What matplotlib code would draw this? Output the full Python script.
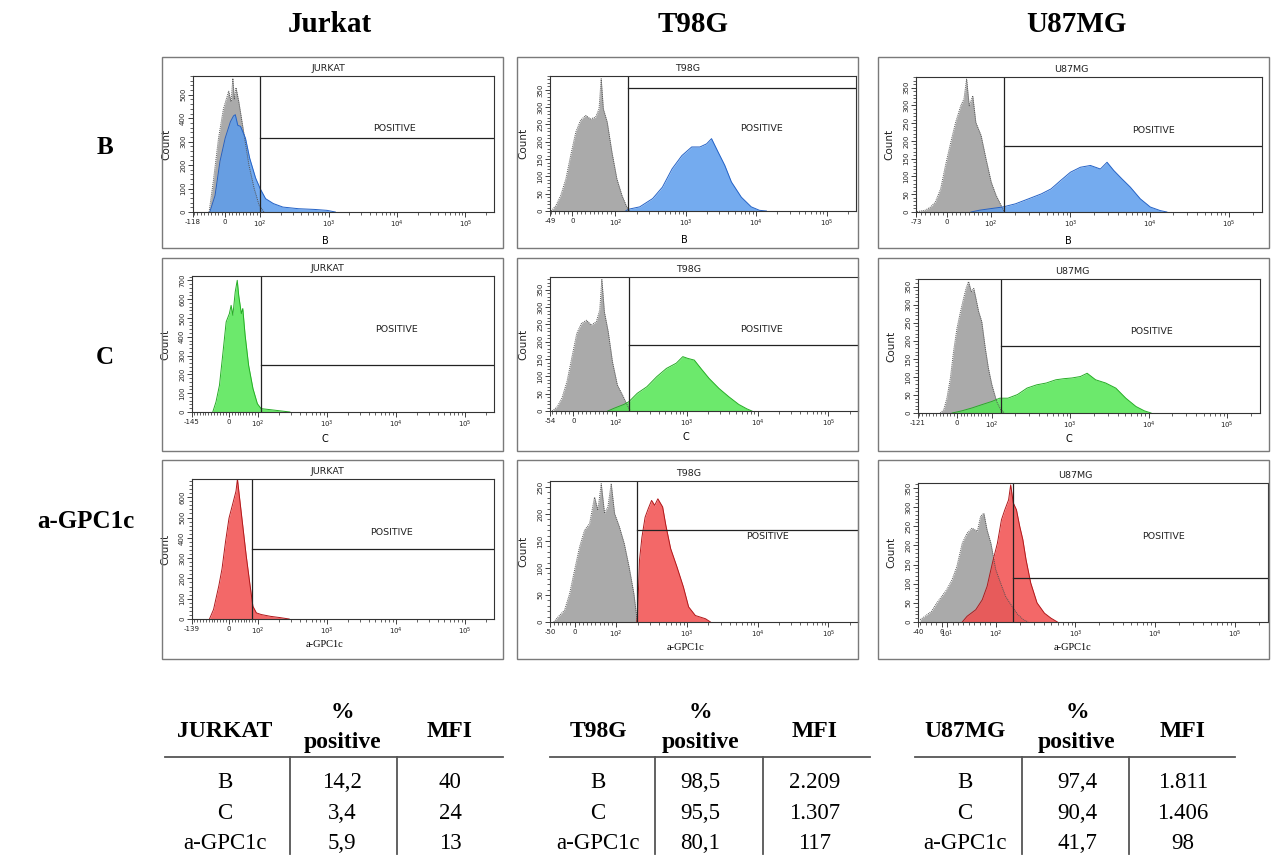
import matplotlib.pyplot as plt
from matplotlib.patches import Rectangle
from matplotlib.lines import Line2D
from matplotlib.ticker import FixedLocator, MultipleLocator

W, H = 1274, 856

col_heads = ["Jurkat", "T98G", "U87MG"]
row_heads = ["B", "C", "a-GPC1c"]
panel_names = ["JURKAT", "T98G", "U87MG"]

# histograms: x = fluorescence, n = count
# grey = control, coloured = stained
jb_ctrl_x = [-46, -34, -19, -5, 10, 17, 22, 26, 31, 39, 53, 68, 83, 97, 114]
jb_ctrl_n = [0, 130, 315, 440, 515, 470, 570, 480, 530, 470, 340, 200, 100, 30, 0]
jb_x = [-44, -29, -15, 0, 15, 24, 29, 36, 44, 58, 70, 87, 100, 120, 156, 215, 365, 620, 950, 1256]
jb_n = [0, 70, 215, 315, 385, 410, 415, 370, 365, 315, 230, 145, 100, 57, 36, 21, 14, 11, 7, 0]

tb_ctrl_x = [-49, -38, -27, -15, -4, 8, 19, 31, 42, 54, 62, 67, 72, 81, 92, 105, 124, 145, 160]
tb_ctrl_n = [0, 16, 45, 93, 160, 228, 262, 276, 266, 271, 295, 382, 295, 257, 170, 93, 45, 12, 0]
tb_x = [140, 153, 222, 339, 466, 640, 880, 1215, 1590, 1977, 2323, 2884, 3580, 4446, 6150, 8510, 11140, 14000]
tb_n = [0, 5, 12, 36, 69, 122, 160, 185, 185, 194, 209, 170, 132, 84, 40, 12, 2, 0]

ub_ctrl_x = [-73, -50, -38, -27, -15, -4, 8, 19, 31, 38, 44, 50, 58, 65, 77, 88, 100, 115, 133, 146]
ub_ctrl_n = [0, 5, 14, 28, 65, 131, 196, 252, 300, 318, 374, 299, 327, 252, 215, 150, 84, 47, 19, 0]
ub_x = [54, 73, 96, 139, 202, 295, 429, 569, 755, 1000, 1337, 1787, 2388, 2898, 3517, 4478, 5700, 7620, 10190, 13600, 16500]
ub_n = [0, 5, 9, 14, 23, 37, 51, 65, 89, 112, 126, 131, 121, 140, 117, 93, 70, 37, 14, 4, 0]

jc_x = [-55, -44, -32, -21, -9, 2, 8, 14, 22, 29, 34, 43, 48, 56, 68, 83, 98, 111, 154, 235, 290]
jc_n = [0, 53, 142, 301, 479, 523, 567, 514, 638, 700, 620, 523, 550, 408, 248, 124, 44, 18, 12, 4, 0]

tc_ctrl_x = [-50, -38, -27, -15, -4, 8, 19, 31, 42, 54, 62, 67, 73, 82, 92, 105, 124, 145, 160]
tc_ctrl_n = [0, 12, 37, 85, 152, 224, 253, 262, 248, 258, 291, 380, 286, 229, 142, 75, 46, 17, 0]
tc_x = [81, 96, 130, 153, 200, 274, 377, 518, 712, 881, 1033, 1280, 1585, 2072, 2860, 3940, 5430, 7100, 8330]
tc_n = [0, 8, 19, 27, 51, 70, 99, 123, 138, 157, 152, 147, 123, 94, 65, 41, 19, 6, 0]

uc_ctrl_x = [-48, -38, -29, -19, -10, 0, 10, 19, 26, 33, 41, 48, 54, 62, 71, 81, 90, 100, 115, 130, 145]
uc_ctrl_n = [0, 9, 41, 97, 170, 235, 281, 318, 345, 364, 336, 345, 318, 281, 253, 180, 124, 78, 32, 9, 0]
uc_x = [-14, 14, 43, 71, 100, 126, 160, 212, 281, 373, 494, 655, 828, 1050, 1345, 1640, 2100, 2825, 3800, 5100, 6870, 8790, 10700]
uc_n = [0, 6, 14, 23, 32, 41, 41, 51, 69, 78, 83, 92, 95, 97, 101, 110, 92, 83, 69, 41, 18, 6, 0]

ja_x = [-67, -53, -35, -24, -12, 0, 12, 24, 29, 35, 47, 59, 71, 82, 94, 111, 152, 207, 282]
ja_n = [0, 47, 163, 247, 380, 497, 563, 630, 690, 613, 463, 313, 180, 63, 30, 22, 13, 7, 0]

ta_ctrl_x = [-50, -40, -24, -12, 0, 12, 24, 36, 48, 56, 64, 72, 80, 88, 96, 111, 130, 152, 178, 195, 200]
ta_ctrl_n = [0, 9, 22, 52, 96, 139, 170, 182, 231, 207, 256, 201, 213, 256, 201, 176, 145, 102, 52, 9, 0]
ta_x = [195, 201, 213, 231, 256, 284, 316, 350, 388, 453, 503, 588, 722, 890, 1056, 1315, 1830, 2150]
ta_n = [0, 15, 114, 157, 194, 210, 225, 216, 228, 213, 179, 136, 102, 65, 28, 12, 6, 0]

ua_ctrl_x = [-40, -31, -19, -9, 0, 9, 19, 28, 38, 47, 56, 66, 72, 78, 84, 91, 100, 115, 133, 160, 190, 223, 256]
ua_ctrl_n = [6, 15, 28, 50, 67, 84, 110, 145, 206, 232, 245, 237, 276, 284, 240, 206, 137, 102, 67, 41, 19, 6, 0]
ua_x = [38, 47, 63, 75, 84, 94, 105, 118, 130, 145, 154, 166, 182, 200, 219, 240, 275, 330, 409, 494, 595]
ua_n = [0, 15, 32, 58, 93, 155, 206, 267, 293, 319, 358, 311, 293, 250, 215, 163, 102, 50, 23, 10, 0]

hists = [[(jb_ctrl_x, jb_ctrl_n, jb_x, jb_n), (tb_ctrl_x, tb_ctrl_n, tb_x, tb_n), (ub_ctrl_x, ub_ctrl_n, ub_x, ub_n)],
         [(None, None, jc_x, jc_n), (tc_ctrl_x, tc_ctrl_n, tc_x, tc_n), (uc_ctrl_x, uc_ctrl_n, uc_x, uc_n)],
         [(None, None, ja_x, ja_n), (ta_ctrl_x, ta_ctrl_n, ta_x, ta_n), (ua_ctrl_x, ua_ctrl_n, ua_x, ua_n)]]

# axis minimum label, gate threshold (x) and gate level (y) per panel
xmin_labels = [["-118", "-49", "-73"], ["-145", "-54", "-121"], ["-139", "-50", "-40"]]
gate_x = [[100, 153, 143], [109, 153, 130], [79, 197, 163]]
gate_y = [[314, 355, 187], [252, 190, 186], [343, 171, 115]]

# tables
tab_rows = ["B", "C", "a-GPC1c"]
jurkat_pct = ["14,2", "3,4", "5,9"]
jurkat_mfi = ["40", "24", "13"]
t98g_pct = ["98,5", "95,5", "80,1"]
t98g_mfi = ["2.209", "1.307", "117"]
u87_pct = ["97,4", "90,4", "41,7"]
u87_mfi = ["1.811", "1.406", "98"]

# ---- layout (pixels of the 1274x856 picture) ----
ax_px = [[(193, 76, 494, 212), (550, 76, 856, 211), (916, 77, 1262, 212)],
         [(192, 276, 494, 412), (550, 277, 858, 411), (918, 279, 1260, 413)],
         [(192, 479, 494, 619), (550, 481, 858, 622), (918, 483, 1268, 622)]]
box_x = [(162, 503), (517, 858), (878, 1269)]
box_y = [(57, 248), (258, 451), (460, 659)]
# left limit of the symlog axis so that the 0 tick sits where the logicle put it
xlo = [[-92, -52, -71], [-129, -55, -113], [-130, -59, -44]]
linscale = [[0.46, 0.55, 0.50], [0.38, 0.54, 0.40], [0.38, 0.53, 0.61]]
ymax = [[580, 390, 380], [723, 387, 371], [690, 261, 363]]
ystep = [[100, 50, 50], [100, 50, 50], [100, 50, 50]]
pos_xy = [[(9200, 354), (11800, 237), (11200, 229)],
          [(10000, 440), (11260, 234), (10700, 226)],
          [(8450, 427), (13900, 159), (12800, 222)]]
xlab_y = [-0.18, -0.16, -0.15]

fills = ['#5c9ded', '#52e652', '#f24e4e']
edges = ['#2462c6', '#25ad25', '#b0181b']

fig = plt.figure(figsize=(W / 100, H / 100), dpi=100)


def rect(x0, y0, x1, y1):
    return [x0 / W, 1 - y1 / H, (x1 - x0) / W, (y1 - y0) / H]


minor_x = [v for v in range(-140, 101, 10) if v not in (0, 100)]
for d in [100, 1000, 10000, 100000]:
    minor_x += [k * d for k in range(2, 10)]

for r in range(3):
    for c in range(3):
        # grey frame around each cytometer export
        bx, by = box_x[c], box_y[r]
        fig.add_artist(Rectangle((bx[0] / W, 1 - by[1] / H), (bx[1] - bx[0]) / W, (by[1] - by[0]) / H,
                                 transform=fig.transFigure, fill=False, ec='#7a7a7a', lw=1.0))

        ax = fig.add_axes(rect(*ax_px[r][c]))
        ax.set_xscale('symlog', linthresh=100, linscale=linscale[r][c])
        cx, cn, sx, sn = hists[r][c]
        if cx is not None:
            ax.fill_between(cx, cn, color='#aaaaaa', lw=0)
            ax.plot(cx, cn, color='#555555', lw=0.7, ls=(0, (1, 1)))
        ax.fill_between(sx, sn, color=fills[r], alpha=0.85, lw=0)
        ax.plot(sx, sn, color=edges[r], lw=0.7)

        xmax = 262144
        ax.set_xlim(xlo[r][c], xmax)
        ax.set_ylim(0, ymax[r][c])

        # gate
        ax.plot([gate_x[r][c], gate_x[r][c]], [0, ymax[r][c]], color='#222222', lw=0.9)
        ax.plot([gate_x[r][c], xmax], [gate_y[r][c], gate_y[r][c]], color='#222222', lw=0.9)
        ax.text(pos_xy[r][c][0], pos_xy[r][c][1], "POSITIVE", fontsize=6.8, ha='center', va='center',
                color='#222222')

        ax.text(0.45, 1.02, panel_names[c], transform=ax.transAxes, ha='center', va='bottom',
                fontsize=6.8, color='#222222')

        ticks = [xlo[r][c], 0, 100, 1000, 10000, 100000]
        labels = [xmin_labels[r][c], '0', r'$10^{2}$', r'$10^{3}$', r'$10^{4}$', r'$10^{5}$']
        if r == 2 and c == 2:
            ticks.insert(2, 10)
            labels.insert(2, r'$10^{1}$')
        ax.set_xticks(ticks)
        ax.set_xticklabels(labels)
        ax.xaxis.set_minor_locator(FixedLocator(minor_x))
        ax.yaxis.set_major_locator(MultipleLocator(ystep[r][c]))
        ax.yaxis.set_minor_locator(MultipleLocator(ystep[r][c] / 5))
        ax.tick_params(which='major', length=3.5, width=0.6, labelsize=5, pad=1.5, colors='#222222')
        ax.tick_params(which='minor', length=2.3, width=0.5, colors='#222222')
        ax.tick_params(axis='y', labelrotation=90)
        for lab in ax.get_yticklabels():
            lab.set_va('center')

        w = ax_px[r][c][2] - ax_px[r][c][0]
        ax.set_ylabel("Count", fontsize=7.5, color='#222222')
        ax.yaxis.set_label_coords(-22 / w, 0.5)
        if r == 2:
            ax.set_xlabel(row_heads[r], fontsize=7.5, family='Liberation Serif')
        else:
            ax.set_xlabel(row_heads[r], fontsize=7)
        ax.xaxis.set_label_coords(0.44, xlab_y[r])
        for sp in ax.spines.values():
            sp.set_linewidth(0.8)
            sp.set_color('#333333')

# column / row headings
for c, x in enumerate([330, 693, 1076]):
    fig.text(x / W, 1 - 25 / H, col_heads[c], family='Liberation Serif', weight='bold',
             fontsize=21, ha='center', va='center')
for r, (x, y) in enumerate([(105, 148), (105, 357), (86, 521)]):
    fig.text(x / W, 1 - y / H, row_heads[r], family='Liberation Serif', weight='bold',
             fontsize=18, ha='center', va='center')

# summary tables
tables = [("JURKAT", jurkat_pct, jurkat_mfi, (225, 342, 450), (165, 503), (290, 397)),
          ("T98G", t98g_pct, t98g_mfi, (598, 700, 815), (550, 870), (655, 763)),
          ("U87MG", u87_pct, u87_mfi, (965, 1077, 1183), (915, 1235), (1022, 1129))]
row_base = [788, 819, 849]
for name, pct, mfi, xs, hl, vl in tables:
    fig.text(xs[0] / W, 1 - 737 / H, name, family='Liberation Serif', weight='bold', fontsize=17,
             ha='center', va='baseline')
    fig.text(xs[1] / W, 1 - 718 / H, "%", family='Liberation Serif', weight='bold', fontsize=17,
             ha='center', va='baseline')
    fig.text(xs[1] / W, 1 - 748 / H, "positive", family='Liberation Serif', weight='bold', fontsize=17,
             ha='center', va='baseline')
    fig.text(xs[2] / W, 1 - 737 / H, "MFI", family='Liberation Serif', weight='bold', fontsize=17,
             ha='center', va='baseline')
    fig.add_artist(Line2D([hl[0] / W, hl[1] / W], [1 - 757 / H, 1 - 757 / H], color='#555555', lw=1.3))
    for v in vl:
        fig.add_artist(Line2D([v / W, v / W], [1 - 757 / H, 1 - 854 / H], color='#555555', lw=1.3))
    for i in range(3):
        for x, t in zip(xs, [tab_rows[i], pct[i], mfi[i]]):
            fig.text(x / W, 1 - row_base[i] / H, t, family='Liberation Serif', fontsize=16.5,
                     ha='center', va='baseline')

fig.savefig('out.png', dpi=100, facecolor='white')
